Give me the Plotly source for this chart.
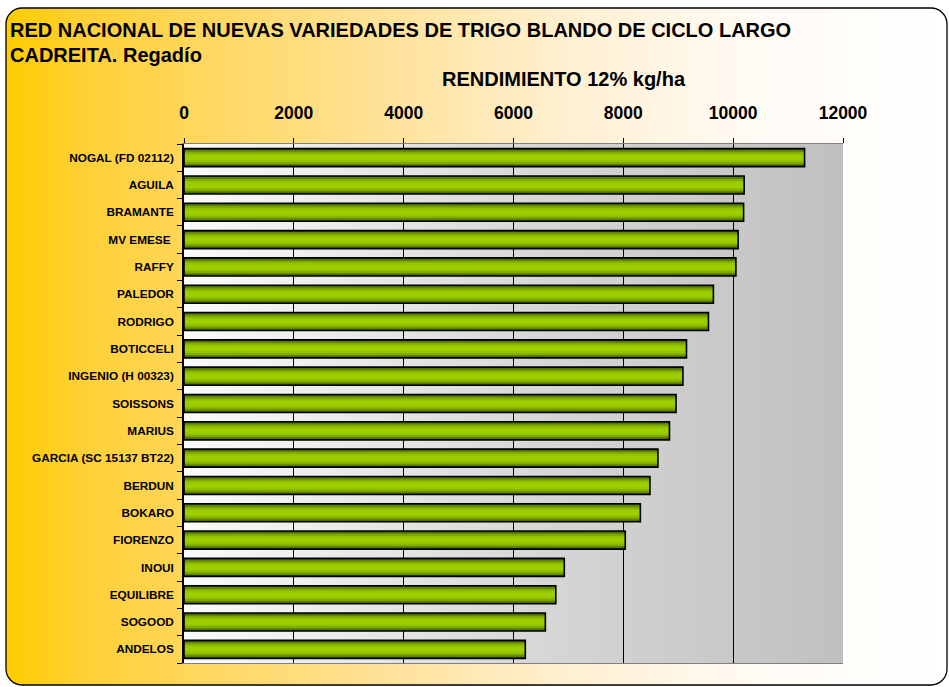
import base64
import plotly.graph_objects as go

# ---------------- data ----------------
varieties = ["NOGAL (FD 02112)", "AGUILA", "BRAMANTE", "MV EMESE ", "RAFFY", "PALEDOR",
             "RODRIGO", "BOTICCELI", "INGENIO (H 00323)", "SOISSONS", "MARIUS",
             "GARCIA (SC 15137 BT22)", "BERDUN", "BOKARO", "FIORENZO", "INOUI",
             "EQUILIBRE", "SOGOOD", "ANDELOS"]
yield_kg_ha = [11300, 10200, 10190, 10090, 10050, 9640, 9550, 9150, 9085, 8960, 8840,
               8630, 8485, 8310, 8035, 6925, 6770, 6580, 6215]
x_ticks = [0, 2000, 4000, 6000, 8000, 10000, 12000]

# ---------------- layout geometry ----------------
W, H = 949, 687
ML, MR, MT, MB = 184, 106, 144, 24
PW, PH = W - ML - MR, H - MT - MB

# background (rounded frame with yellow->white gradient)
outer_svg = f'''<svg xmlns="http://www.w3.org/2000/svg" width="{W}" height="{H}" viewBox="0 0 {W} {H}">
<defs><linearGradient id="g" x1="0" y1="0" x2="1" y2="0">
<stop offset="0" stop-color="#FFCC00"/><stop offset="0.08" stop-color="#FFD035"/>
<stop offset="0.35" stop-color="#FFDF8A"/><stop offset="0.6" stop-color="#FFF0D2"/>
<stop offset="0.8" stop-color="#FFFBF5"/><stop offset="1" stop-color="#FFFFFF"/></linearGradient></defs>
<rect x="0" y="0" width="{W}" height="{H}" fill="#FFFFFF"/>
<rect x="6" y="8" width="{W-8}" height="{H-10}" rx="16" ry="16" fill="url(#g)" stroke="#000000" stroke-width="1.3"/>
</svg>'''
plot_svg = f'''<svg xmlns="http://www.w3.org/2000/svg" width="{PW}" height="{PH}" viewBox="0 0 {PW} {PH}" preserveAspectRatio="none">
<defs><linearGradient id="p" x1="0" y1="0" x2="1" y2="0">
<stop offset="0" stop-color="#FAFAFA"/><stop offset="0.55" stop-color="#D6D6D6"/>
<stop offset="1" stop-color="#C0C0C0"/></linearGradient></defs>
<rect x="0" y="0" width="{PW}" height="{PH}" fill="url(#p)"/>
</svg>'''


def uri(s):
    return "data:image/svg+xml;base64," + base64.b64encode(s.encode()).decode()


fig = go.Figure()

# layered bars to imitate the cylinder shading
layers = [(0.66, "#3F5A00"), (0.56, "#5F8400"), (0.44, "#80AC00"), (0.30, "#94C600"), (0.16, "#9CCE00")]
for w, c in layers:
    fig.add_trace(go.Bar(x=yield_kg_ha, y=varieties, orientation="h", width=w,
                         marker=dict(color=c, line=dict(width=0)),
                         hoverinfo="skip", showlegend=False))
# outline
fig.add_trace(go.Bar(x=yield_kg_ha, y=varieties, orientation="h", width=0.66,
                     marker=dict(color="rgba(0,0,0,0)", line=dict(color="#000000", width=1.6)),
                     showlegend=False))

FONT = "Liberation Sans, Arial, sans-serif"
fig.update_layout(
    width=W, height=H,
    margin=dict(l=ML, r=MR, t=MT, b=MB, autoexpand=False),
    paper_bgcolor="rgba(0,0,0,0)", plot_bgcolor="rgba(0,0,0,0)",
    barmode="overlay",
    font=dict(family=FONT, color="#000000"),
    images=[
        dict(source=uri(outer_svg), xref="paper", yref="paper",
             x=-ML / PW, y=1 + MT / PH, sizex=W / PW, sizey=H / PH,
             xanchor="left", yanchor="top", sizing="stretch", layer="below"),
        dict(source=uri(plot_svg), xref="paper", yref="paper",
             x=0, y=1, sizex=1, sizey=1,
             xanchor="left", yanchor="top", sizing="stretch", layer="below"),
    ],
    xaxis=dict(side="top", range=[0, 12000], tickvals=x_ticks,
               ticktext=[f"<b>{v}</b>" for v in x_ticks],
               tickfont=dict(size=17.5, family=FONT),
               showgrid=True, gridcolor="#000000", gridwidth=1,
               ticks="outside", ticklen=5, tickcolor="#000000",
               showline=True, linecolor="#808080", linewidth=1, mirror=True,
               zeroline=False, ticklabelstandoff=12, fixedrange=True),
    yaxis=dict(categoryorder="array", categoryarray=varieties, autorange="reversed",
               tickvals=varieties, ticktext=[f"<b>{v}</b>" for v in varieties],
               tickfont=dict(size=11.8, family=FONT),
               ticks="outside", tickson="boundaries", ticklen=5, tickcolor="#000000",
               showline=True, linecolor="#000000", linewidth=1.5,
               showgrid=False, zeroline=False, ticklabelstandoff=6, fixedrange=True),
    annotations=[
        dict(text="<b>RED NACIONAL DE NUEVAS VARIEDADES DE TRIGO BLANDO DE CICLO LARGO</b>",
             xref="paper", yref="paper", x=(8 - ML) / PW, y=1 + (MT - 30) / PH,
             xanchor="left", yanchor="middle", showarrow=False, font=dict(size=20)),
        dict(text="<b>CADREITA. Regadío</b>",
             xref="paper", yref="paper", x=(8 - ML) / PW, y=1 + (MT - 55) / PH,
             xanchor="left", yanchor="middle", showarrow=False, font=dict(size=20)),
        dict(text="<b>RENDIMIENTO 12% kg/ha</b>",
             xref="paper", yref="paper", x=(564 - ML) / PW, y=1 + (MT - 79) / PH,
             xanchor="center", yanchor="middle", showarrow=False, font=dict(size=20)),
    ],
)

fig.write_html("out.html", config={"displayModeBar": False},
               post_script="document.body.style.margin='0';document.body.style.overflow='hidden';")
